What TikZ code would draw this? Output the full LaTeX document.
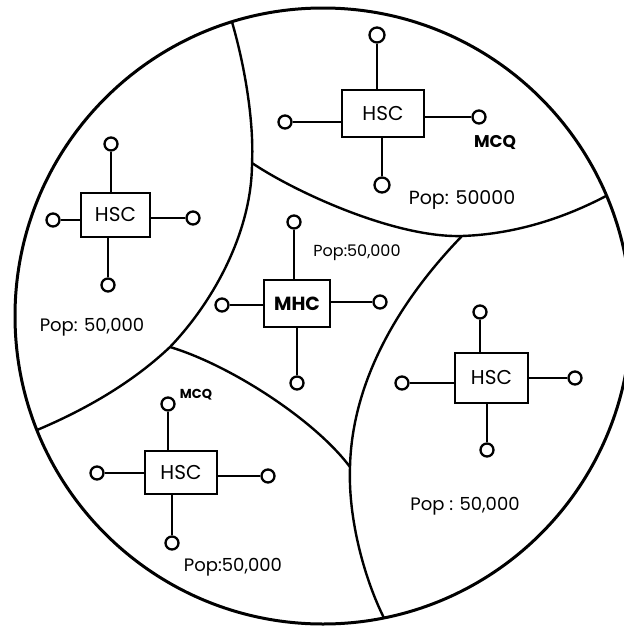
\documentclass[tikz,border=0pt]{standalone}
\usepackage{fontspec}
\setmainfont{Poppins}
\usepackage{tikz}
\usetikzlibrary{positioning}
\tikzset{
  rim/.style={line width=3pt,draw=black},
  border/.style={line width=2.4pt,draw=black},
  hscbox/.style={draw=black,line width=2.4pt,fill=white,inner sep=0pt,minimum width=70pt,minimum height=45pt,font=\fontsize{20}{22}\selectfont},
  mhcbox/.style={hscbox,font=\fontsize{19}{21}\selectfont\bfseries},
  outlet/.style={circle,draw=black,line width=2.3pt,fill=white,minimum size=13pt,inner sep=0pt},
  spoke/.style={line width=2pt,draw=black},
  poplabel/.style={inner sep=1pt,font=\fontsize{18}{20}\selectfont},
  mcqlabel/.style={inner sep=1pt,font=\fontsize{17}{19}\selectfont\bfseries}
}
\begin{document}
\begin{tikzpicture}[x=1pt,y=-1pt]
  \useasboundingbox (0,0) rectangle (624,627);
  % outline of the district
  \draw[rim] (323,316) circle (308);
  % where the borders meet
  \coordinate (jtop) at (232,22);
  \coordinate (jright) at (606,196);
  \coordinate (jleft) at (37,430);
  \coordinate (jbot) at (384,618);
  \coordinate (jnw) at (252,163);
  \coordinate (jne) at (462,236);
  \coordinate (jsw) at (170,347);
  \coordinate (jse) at (350,467);
  \draw[border] (jtop) .. controls (246,70) and (254,125) .. (jnw)
    .. controls (252,230) and (215,300) .. (jsw)
    .. controls (130,385) and (80,412) .. (jleft);
  \draw[border] (jnw) .. controls (295,192) and (395,238) .. (jne)
    .. controls (520,234) and (570,215) .. (jright);
  \draw[border] (jne) .. controls (400,300) and (352,380) .. (jse)
    .. controls (348,520) and (365,580) .. (jbot);
  \draw[border] (jsw) .. controls (230,365) and (315,420) .. (jse);

  % left region
  \node[hscbox,minimum width=69pt,minimum height=44pt] (hscL) at (115.5,215) {HSC};
  \node[outlet] (hscL-n) at (111,144) {};
  \node[outlet] (hscL-w) at (53,220) {};
  \node[outlet] (hscL-e) at (193,218) {};
  \node[outlet] (hscL-s) at (108,285) {};
  \draw[spoke] (hscL-n) -- (hscL-n |- hscL.north);
  \draw[spoke] (hscL-s) -- (hscL-s |- hscL.south);
  \draw[spoke] (hscL-w) -- (hscL-w -| hscL.west);
  \draw[spoke] (hscL-e) -- (hscL-e -| hscL.east);
  \node[poplabel] (popL) at (92,327) {Pop: 50,000};

  % top region
  \node[hscbox,minimum width=82pt,minimum height=47pt] (hscT) at (383,113.5) {HSC};
  \node[outlet,minimum size=15pt] (hscT-n) at (377,35) {};
  \node[outlet] (hscT-w) at (285,122) {};
  \node[outlet] (hscT-e) at (479,117) {};
  \node[outlet,minimum size=15pt] (hscT-s) at (382,185) {};
  \draw[spoke] (hscT-n) -- (hscT-n |- hscT.north);
  \draw[spoke] (hscT-s) -- (hscT-s |- hscT.south);
  \draw[spoke] (hscT-w) -- (hscT-w -| hscT.west);
  \draw[spoke] (hscT-e) -- (hscT-e -| hscT.east);
  \node[mcqlabel] (mcqT) at (495,142) {MCQ};
  \node[poplabel,font=\fontsize{19}{21}\selectfont] (popT) at (462,200) {Pop: 50000};

  % centre region
  \node[mhcbox,minimum width=66pt,minimum height=47pt] (mhc) at (297,303.5) {MHC};
  \node[outlet] (mhc-n) at (294,222) {};
  \node[outlet] (mhc-w) at (222,305) {};
  \node[outlet] (mhc-e) at (380,302) {};
  \node[outlet] (mhc-s) at (297,383) {};
  \draw[spoke] (mhc-n) -- (mhc-n |- mhc.north);
  \draw[spoke] (mhc-s) -- (mhc-s |- mhc.south);
  \draw[spoke] (mhc-w) -- (mhc-w -| mhc.west);
  \draw[spoke] (mhc-e) -- (mhc-e -| mhc.east);
  \node[poplabel,font=\fontsize{16}{18}\selectfont] (popC) at (357,253) {Pop:50,000};

  % right region
  \node[hscbox,minimum width=73pt,minimum height=50pt] (hscR) at (491.5,378) {HSC};
  \node[outlet] (hscR-n) at (480,312) {};
  \node[outlet] (hscR-w) at (402,383) {};
  \node[outlet] (hscR-e) at (575,378) {};
  \node[outlet] (hscR-s) at (487,450) {};
  \draw[spoke] (hscR-n) -- (hscR-n |- hscR.north);
  \draw[spoke] (hscR-s) -- (hscR-s |- hscR.south);
  \draw[spoke] (hscR-w) -- (hscR-w -| hscR.west);
  \draw[spoke] (hscR-e) -- (hscR-e -| hscR.east);
  \node[poplabel] (popR) at (465,506) {Pop : 50,000};

  % bottom region
  \node[hscbox,minimum width=72pt,minimum height=43pt] (hscB) at (181,472.5) {HSC};
  \node[outlet] (hscB-n) at (168,404) {};
  \node[outlet] (hscB-w) at (97,473) {};
  \node[outlet] (hscB-e) at (268,476) {};
  \node[outlet] (hscB-s) at (172,543) {};
  \draw[spoke] (hscB-n) -- (hscB-n |- hscB.north);
  \draw[spoke] (hscB-s) -- (hscB-s |- hscB.south);
  \draw[spoke] (hscB-w) -- (hscB-w -| hscB.west);
  \draw[spoke] (hscB-e) -- (hscB-e -| hscB.east);
  \node[mcqlabel,font=\fontsize{13}{15}\selectfont\bfseries] (mcqB) at (196,395) {MCQ};
  \node[poplabel] (popB) at (233,567) {Pop:50,000};
\end{tikzpicture}
\end{document}
